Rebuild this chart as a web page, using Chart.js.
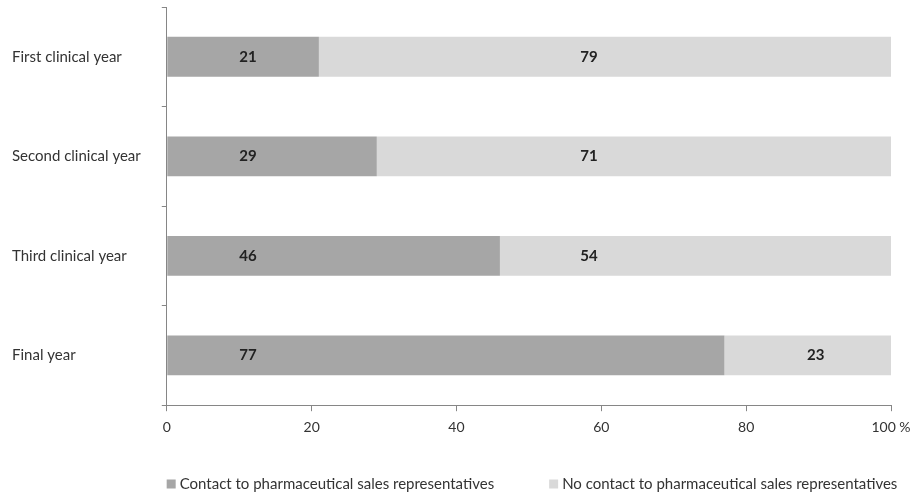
<!DOCTYPE html>
<html>
<head>
<meta charset="utf-8">
<style>
  html, body { margin: 0; padding: 0; background: #fff; }
  #wrap { width: 921px; height: 495px; position: relative; }
</style>
<script src="https://cdn.jsdelivr.net/npm/chart.js@4/dist/chart.umd.min.js"></script>
</head>
<body>
<div id="wrap"><canvas id="chart"></canvas></div>
<script>
'use strict';

const years = ["First clinical year", "Second clinical year", "Third clinical year", "Final year"];
const contact = [21, 29, 46, 77];
const noContact = [79, 71, 54, 23];
const seriesNames = ["Contact to pharmaceutical sales representatives", "No contact to pharmaceutical sales representatives"];
const xTicks = [0, 20, 40, 60, 80, 100];

// où les valeurs sont posées sur l'axe (comme dans l'original, pas toujours au centre)
const labelAt = [
  [11.2, 11.2, 11.2, 11.2],
  [58.3, 58.3, 58.3, 89.6],
];

const FONT = "Lato, 'Liberation Sans', sans-serif";
const axisColor = "#868686";
const textColor = "#333";
const colors = ["#a6a6a6", "#d9d9d9"];

const segmentLabels = {
  id: "segmentLabels",
  afterDatasetsDraw(chart) {
    const ctx = chart.ctx;
    const xScale = chart.scales.x;
    ctx.save();
    ctx.font = "bold 15px " + FONT;
    ctx.fillStyle = "#222";
    ctx.textAlign = "center";
    ctx.textBaseline = "middle";
    chart.data.datasets.forEach((ds, i) => {
      chart.getDatasetMeta(i).data.forEach((bar, j) => {
        ctx.fillText(String(ds.data[j]), xScale.getPixelForValue(labelAt[i][j]), bar.y);
      });
    });
    ctx.restore();
  },
};

// légende dessinée à la main pour garder le grand écart entre les deux entrées
const bottomLegend = {
  id: "bottomLegend",
  afterDraw(chart) {
    const ctx = chart.ctx;
    const gap = 55, box = 9, boxGap = 4;
    ctx.save();
    ctx.font = "15px " + FONT;
    ctx.textBaseline = "middle";
    ctx.textAlign = "left";
    const widths = seriesNames.map((s) => box + boxGap + ctx.measureText(s).width);
    const total = widths[0] + gap + widths[1];
    let x = 532 - total / 2;
    const y = chart.height - 11;
    seriesNames.forEach((name, i) => {
      ctx.fillStyle = colors[i];
      ctx.fillRect(x, y - box / 2, box, box);
      ctx.fillStyle = textColor;
      ctx.fillText(name, x + box + boxGap, y);
      x += widths[i] + gap;
    });
    ctx.restore();
  },
};

new Chart(document.getElementById("chart"), {
  type: "bar",
  data: {
    labels: years,
    datasets: [
      { label: seriesNames[0], data: contact, backgroundColor: colors[0] },
      { label: seriesNames[1], data: noContact, backgroundColor: colors[1] },
    ],
  },
  options: {
    indexAxis: "y",
    responsive: true,
    maintainAspectRatio: false,
    animation: false,
    barPercentage: 0.4,
    categoryPercentage: 1,
    layout: { padding: { top: 7, left: 12, right: 30, bottom: 51 } },
    scales: {
      x: {
        stacked: true,
        min: 0,
        max: 100,
        afterBuildTicks: (scale) => { scale.ticks = xTicks.map((v) => ({ value: v })); },
        ticks: {
          color: textColor,
          font: { family: FONT, size: 14 },
          padding: 8,
          maxRotation: 0,
          callback: (v) => (v === 100 ? "100 %" : String(v)),
        },
        grid: { drawOnChartArea: false, drawTicks: true, tickLength: 6, color: axisColor },
        border: { color: axisColor },
      },
      y: {
        stacked: true,
        afterFit: (scale) => { scale.paddingTop = 0; scale.paddingBottom = 0; },
        ticks: {
          color: textColor,
          font: { family: FONT, size: 15 },
          crossAlign: "far",
          padding: 10.5,
        },
        grid: { drawOnChartArea: false, drawTicks: true, tickLength: 5, color: axisColor, offset: true },
        border: { color: axisColor },
      },
    },
    plugins: {
      legend: { display: false },
      tooltip: { enabled: false },
    },
  },
  plugins: [segmentLabels, bottomLegend],
});
</script>
</body>
</html>
